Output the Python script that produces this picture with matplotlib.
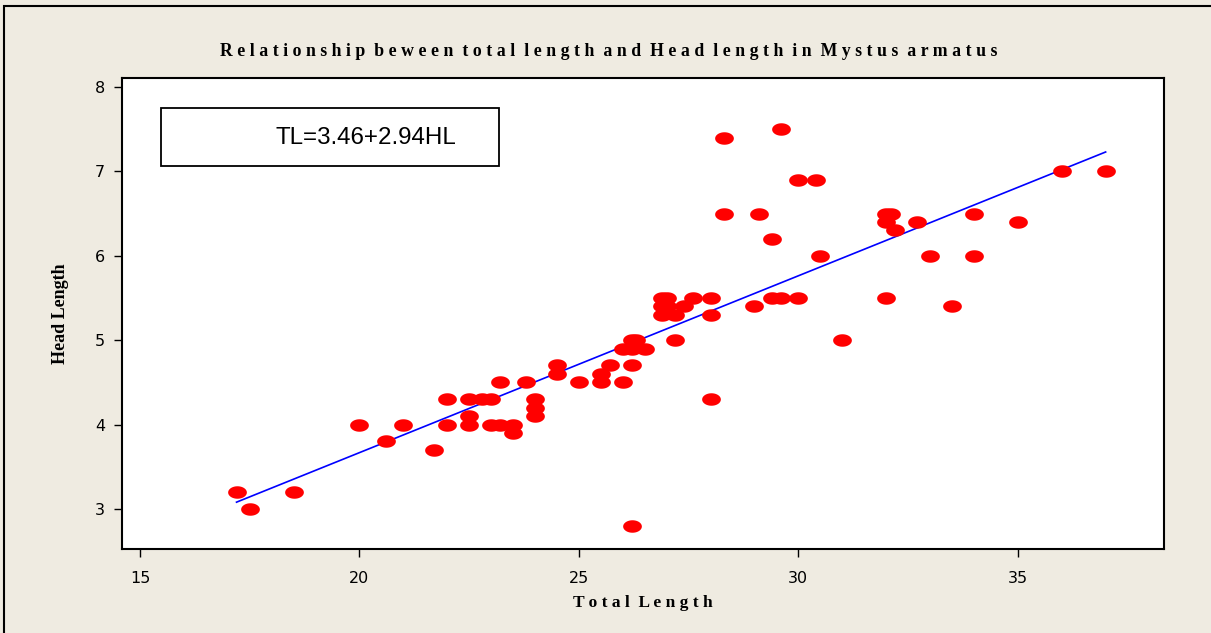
import numpy as np
import matplotlib.pyplot as plt
from matplotlib.patches import Rectangle

# --- Data (Total Length, Head Length) ---
total_length = [17.2, 17.5, 18.5, 20.0, 20.6, 21.0, 21.7, 22.0, 22.0, 22.5,
                22.5, 22.5, 22.8, 23.0, 23.0, 23.2, 23.5, 23.5, 23.2, 23.8,
                24.0, 24.0, 24.0, 24.5, 24.5, 25.0, 25.5, 25.5, 25.7, 26.0,
                26.2, 26.0, 26.2, 26.3, 26.2, 26.5, 26.2, 26.9, 27.0, 26.9,
                27.0, 26.9, 27.2, 27.4, 27.6, 28.0, 28.0, 27.2, 28.0, 28.3,
                29.6, 30.0, 30.4, 28.3, 29.1, 29.4, 30.5, 29.0, 29.4, 29.6,
                30.0, 31.0, 32.0, 32.0, 32.1, 32.0, 32.2, 32.7, 33.0, 33.5,
                34.0, 34.0, 35.0, 36.0, 37.0]
head_length = [3.2, 3.0, 3.2, 4.0, 3.8, 4.0, 3.7, 4.3, 4.0, 4.3,
               4.1, 4.0, 4.3, 4.3, 4.0, 4.0, 4.0, 3.9, 4.5, 4.5,
               4.3, 4.2, 4.1, 4.7, 4.6, 4.5, 4.5, 4.6, 4.7, 4.5,
               4.7, 4.9, 5.0, 5.0, 4.9, 4.9, 2.8, 5.5, 5.5, 5.4,
               5.4, 5.3, 5.3, 5.4, 5.5, 5.5, 5.3, 5.0, 4.3, 7.4,
               7.5, 6.9, 6.9, 6.5, 6.5, 6.2, 6.0, 5.4, 5.5, 5.5,
               5.5, 5.0, 5.5, 6.5, 6.5, 6.4, 6.3, 6.4, 6.0, 5.4,
               6.5, 6.0, 6.4, 7.0, 7.0]

# fitted line end points
fit_x = [17.2, 37.0]
fit_y = [3.08, 7.23]

x_ticks = [15, 20, 25, 30, 35]
y_ticks = [3, 4, 5, 6, 7, 8]

bg = '#EFEBE1'
serif = 'Liberation Serif'

fig = plt.figure(figsize=(12.11, 6.33), dpi=100, facecolor=bg)

# outer frame (left/top edges visible)
fig.patches.append(Rectangle((4 / 1211, -0.01), 1.2, (633 - 6) / 633 + 0.01,
                             transform=fig.transFigure, fill=False,
                             edgecolor='black', linewidth=1.5))

ax = fig.add_axes([0.1007, 0.1327, 0.8605, 0.7441])
ax.set_facecolor('white')

# elliptical marker, wider than tall
t = np.linspace(0, 2 * np.pi, 40)
ellipse = list(zip(1.5 * np.cos(t), np.sin(t)))

ax.plot(total_length, head_length, linestyle='none', marker=ellipse,
        markersize=13.5, color='#FF0000', markeredgewidth=0, zorder=3)
ax.plot(fit_x, fit_y, color='#0000FF', linewidth=1.2, zorder=2)

ax.set_xlim(14.59, 38.33)
ax.set_ylim(2.525, 8.107)
ax.set_xticks(x_ticks)
ax.set_yticks(y_ticks)
ax.tick_params(direction='out', length=6, width=1, labelsize=11.5)
ax.tick_params(axis='x', pad=10)
ax.tick_params(axis='y', pad=6)
for s in ax.spines.values():
    s.set_linewidth(1.5)

ax.set_xlabel('T o t a l  L e n g t h', fontsize=12.5, fontweight='bold',
              family=serif, labelpad=6)
ax.set_ylabel('Head Length', fontsize=13, fontweight='bold',
              family=serif, labelpad=19)

# equation box
ax.add_patch(Rectangle((0.0374, 0.813), 0.3244, 0.123, transform=ax.transAxes,
                       fill=False, edgecolor='black', linewidth=1.3, zorder=4))
ax.text(0.147, 0.873, 'TL=3.46+2.94HL', transform=ax.transAxes,
        fontsize=17.4, family='Liberation Sans', va='center', ha='left')

fig.text(609 / 1211, 1 - 51 / 633,
         'R e l a t i o n s h i p  b e w e e n  t o t a l  l e n g t h  a n d  '
         'H e a d  l e n g t h  i n  M y s t u s  a r m a t u s',
         ha='center', va='center', fontsize=12.8, fontweight='bold', family=serif)

fig.savefig('out.png', dpi=100, facecolor=bg)
